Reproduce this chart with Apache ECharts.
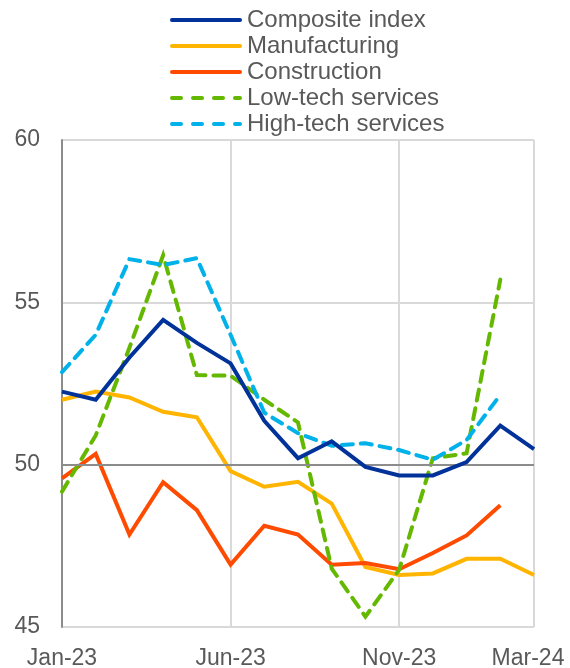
<!DOCTYPE html>
<html>
<head>
<meta charset="utf-8">
<script src="https://cdn.jsdelivr.net/npm/echarts@6/dist/echarts.min.js"></script>
<style>html,body{margin:0;padding:0;background:#fff;}#c{width:570px;height:668px;}</style>
</head>
<body>
<div id="c"></div>
<script>
var categories = ['Jan-23','Feb-23','Mar-23','Apr-23','May-23','Jun-23','Jul-23','Aug-23','Sep-23','Oct-23','Nov-23','Dec-23','Jan-24','Feb-24','Mar-24'];
var labelIndices = [0, 5, 10, 14];
var gridIndices = [5, 10, 14];
var yTicks = [45, 50, 55, 60];
var composite = [52.25, 52.0, 53.3, 54.46, 53.75, 53.12, 51.35, 50.2, 50.72, 49.93, 49.67, 49.67, 50.08, 51.2, 50.48];
var manufacturing = [52.0, 52.25, 52.07, 51.63, 51.46, 49.8, 49.32, 49.47, 48.8, 46.85, 46.6, 46.65, 47.1, 47.1, 46.6];
var construction = [49.58, 50.33, 47.85, 49.46, 48.6, 46.92, 48.12, 47.85, 46.92, 46.97, 46.78, 47.28, 47.82, 48.75, null];
var lowTech = [49.17, 50.9, 53.6, 56.45, 52.76, 52.74, 52.0, 51.3, 46.8, 45.32, 46.76, 50.2, 50.35, 55.7, null];
var highTech = [52.85, 54.0, 56.33, 56.15, 56.36, 54.0, 51.6, 50.97, 50.58, 50.66, 50.45, 50.15, 50.76, 52.15, null];

var font = 'Liberation Sans, Arial, sans-serif';
var textColor = '#595959';
var solidIcon = 'path://M2,0H70A2,2 0 0 1 70,4H2A2,2 0 0 1 2,0Z';
var dashIcon = 'path://M2,0H11A2,2 0 0 1 11,4H2A2,2 0 0 1 2,0Z' +
  'M23,0H32A2,2 0 0 1 32,4H23A2,2 0 0 1 23,0Z' +
  'M44,0H53A2,2 0 0 1 53,4H44A2,2 0 0 1 44,0Z' +
  'M65,0H70A2,2 0 0 1 70,4H65A2,2 0 0 1 65,0Z';

function lineSeries(name, data, color, dashed, z) {
  return {
    name: name, type: 'line', data: data, symbol: 'none', z: z,
    connectNulls: false,
    lineStyle: { color: color, width: 4, type: dashed ? [11, 8] : 'solid', cap: dashed ? 'round' : 'butt', join: 'miter' },
    itemStyle: { color: color }
  };
}

var series = [
  lineSeries('Composite index', composite, '#003299', false, 6),
  lineSeries('Manufacturing', manufacturing, '#ffb400', false, 3),
  lineSeries('Construction', construction, '#ff4b00', false, 3),
  lineSeries('Low-tech services', lowTech, '#65b800', true, 4),
  lineSeries('High-tech services', highTech, '#00b1ea', true, 5)
];
series[0].markLine = {
  silent: true, symbol: 'none', label: { show: false },
  lineStyle: { color: '#8c8c8c', type: 'solid', width: 2 },
  data: [{ yAxis: 50 }]
};

var chart = echarts.init(document.getElementById('c'), null, { renderer: 'canvas' });
chart.setOption({
  animation: false,
  backgroundColor: '#fff',
  legend: {
    orient: 'vertical', left: 165, top: 3,
    itemWidth: 72, itemHeight: 4, itemGap: 2,
    textStyle: { fontFamily: font, fontSize: 24, lineHeight: 22, color: textColor },
    data: series.map(function (s, i) { return { name: s.name, icon: i < 3 ? solidIcon : dashIcon }; })
  },
  grid: { left: 62, right: 36, top: 140, bottom: 41, containLabel: false, outerBoundsMode: 'none' },
  xAxis: {
    type: 'category', data: categories, boundaryGap: false,
    axisLine: { show: false },
    axisTick: { show: false },
    axisLabel: {
      fontFamily: font, fontSize: 23, color: textColor, margin: 20,
      interval: function (i) { return labelIndices.indexOf(i) >= 0; },
      formatter: function (v, i) { return i === categories.length - 1 ? '{last|' + v + '}' : v; },
      rich: { last: { fontFamily: font, fontSize: 23, color: textColor, padding: [0, 12, 0, 0] } }
    },
    splitLine: {
      show: true,
      interval: function (i) { return gridIndices.indexOf(i) >= 0; },
      lineStyle: { color: '#d9d9d9', width: 2 }
    }
  },
  yAxis: {
    type: 'value', min: yTicks[0], max: yTicks[yTicks.length - 1], interval: 5,
    axisLine: { show: true, lineStyle: { color: '#8c8c8c', width: 2 } },
    axisTick: { show: false },
    axisLabel: { fontFamily: font, fontSize: 23, color: textColor, margin: 22 },
    splitLine: { show: true, lineStyle: { color: '#d9d9d9', width: 2 } }
  },
  series: series
});
</script>
</body>
</html>
